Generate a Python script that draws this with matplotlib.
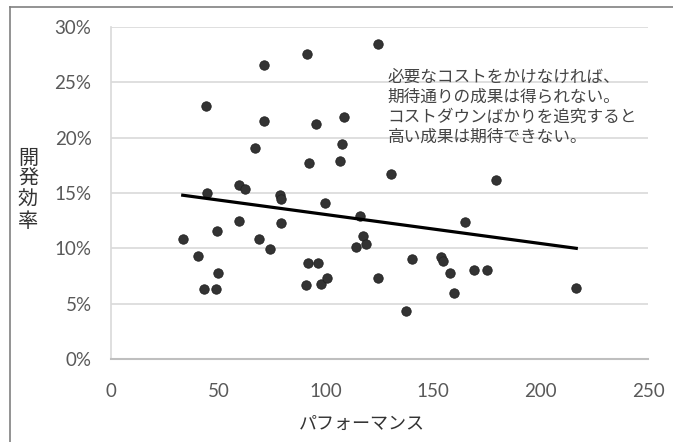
import matplotlib.pyplot as plt
from matplotlib.lines import Line2D

plt.rcParams['font.family'] = ['Lato', 'Noto Sans CJK JP', 'DejaVu Sans']

# パフォーマンス (x) と 開発効率 (y, %)
perf = [71.4, 44.4, 71.4, 67.1, 59.8, 62.4, 91.3, 124.5, 95.5, 108.4,
        107.5, 92.4, 106.7, 130.4, 179.3, 44.7, 78.9, 79.2, 59.8, 79.2,
        49.4, 33.4, 69.1, 74.2, 40.4, 50.0, 43.5, 48.9, 99.7, 116.0,
        117.2, 114.1, 118.8, 164.6, 91.6, 96.3, 90.8, 97.8, 100.6, 124.5,
        140.2, 153.7, 154.5, 157.6, 159.9, 137.4, 168.9, 175.1, 216.6]
eff = [26.6, 22.9, 21.5, 19.1, 15.7, 15.4, 27.6, 28.5, 21.2, 21.9,
       19.4, 17.7, 17.9, 16.7, 16.2, 15.0, 14.8, 14.5, 12.5, 12.3,
       11.6, 10.8, 10.8, 9.9, 9.3, 7.8, 6.3, 6.3, 14.1, 12.9,
       11.1, 10.15, 10.4, 12.4, 8.7, 8.7, 6.7, 6.8, 7.3, 7.3,
       9.0, 9.25, 8.86, 7.75, 5.94, 4.3, 8.05, 8.05, 6.4]

# 近似直線 (両端)
trend_x = [33.4, 216.6]
trend_y = [14.8, 10.0]

x_ticks = [0, 50, 100, 150, 200, 250]
y_ticks = [0, 5, 10, 15, 20, 25, 30]

note = ("必要なコストをかけなければ、\n期待通りの成果は得られない。\n"
        "コストダウンばかりを追究すると\n高い成果は期待できない。")

fig = plt.figure(figsize=(6.73, 4.42), dpi=100)
ax = fig.add_axes([111 / 673, 1 - 359 / 442, 537 / 673, 332 / 442])

ax.scatter(perf, eff, s=46, color='#333333', edgecolor='#222222',
           linewidth=0.6, zorder=3)
ax.plot(trend_x, trend_y, color='black', linewidth=2.3, zorder=4)

ax.set_xlim(0, 250)
ax.set_ylim(0, 30)
ax.set_xticks(x_ticks)
ax.set_yticks(y_ticks)
ax.set_yticklabels([f'{v}%' for v in y_ticks])
ax.tick_params(length=0, labelsize=13.5, colors='#595959')
ax.tick_params(axis='x', pad=17)
ax.tick_params(axis='y', pad=14)

ax.grid(axis='y', color='#d9d9d9', linewidth=1.2)
ax.set_axisbelow(True)
for side in ['top', 'right']:
    ax.spines[side].set_visible(False)
ax.spines['left'].set_color('#d9d9d9')
ax.spines['left'].set_linewidth(1.2)
ax.spines['bottom'].set_color('#bfbfbf')
ax.spines['bottom'].set_linewidth(1.5)

ax.text(0.515, 0.875, note, transform=ax.transAxes, fontsize=12,
        color='#444444', va='top', ha='left', linespacing=1.25,
        family=['Noto Sans CJK JP'])

fig.text(28 / 673, 1 - 190 / 442, '開\n発\n効\n率', fontsize=14.5,
         ha='center', va='center', linespacing=1.0, color='#333333',
         family=['Noto Sans CJK JP'])
fig.text(362 / 673, 1 - 424 / 442, 'パフォーマンス', fontsize=13,
         ha='center', va='center', color='#333333',
         family=['Noto Sans CJK JP'])

# グラフ枠 (上と左)
fig.add_artist(Line2D([10 / 673, 10 / 673], [0, 1 - 7 / 442],
                      transform=fig.transFigure, color='#808080', linewidth=1.2))
fig.add_artist(Line2D([10 / 673, 1], [1 - 7 / 442, 1 - 7 / 442],
                      transform=fig.transFigure, color='#808080', linewidth=1.2))

fig.savefig('out.png', dpi=100)
